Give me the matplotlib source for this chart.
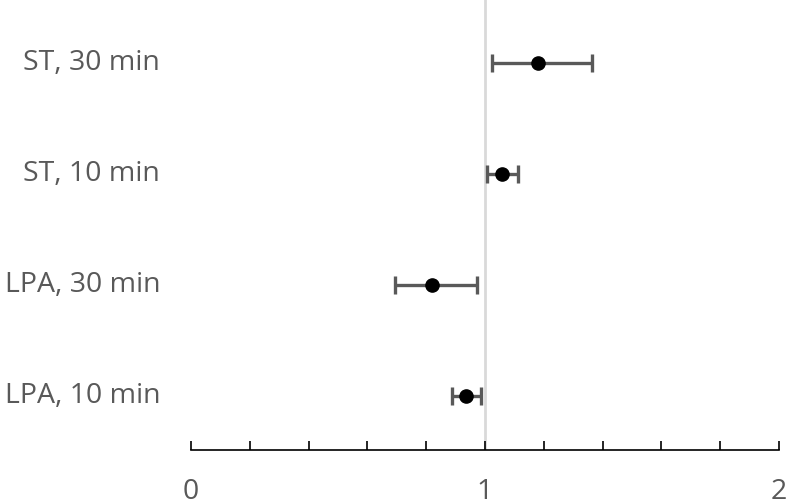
import matplotlib.pyplot as plt
import numpy as np

labels = ['LPA, 10 min', 'LPA, 30 min', 'ST, 10 min', 'ST, 30 min']
est = [0.937, 0.82, 1.058, 1.18]
lo = [0.887, 0.694, 1.007, 1.024]
hi = [0.986, 0.973, 1.112, 1.364]

plt.rcParams['font.family'] = ['Open Sans', 'DejaVu Sans']

fig = plt.figure(figsize=(7.89, 5.03), dpi=100)
ax = fig.add_axes([191/789, 53/503, 588/789, 450/503])

ypos = np.arange(len(labels))
est_a = np.array(est)
xerr = [est_a - np.array(lo), np.array(hi) - est_a]

ax.axvline(1, color='#d9d9d9', lw=2, zorder=1)
ax.errorbar(est_a, ypos, xerr=xerr, fmt='none', ecolor='#595959', elinewidth=2.4,
            capsize=6.5, capthick=2.4, zorder=2)
ax.plot(est_a, ypos, 'o', color='black', ms=9.5, zorder=3)

ax.set_xlim(0, 2)
ax.set_ylim(-0.49, 3.57)
ax.set_xticks([0, 1, 2])
ax.set_xticks(np.arange(0, 2.01, 0.2), minor=True)
ax.tick_params(axis='x', which='both', direction='in', length=6.5, width=1.2, color='black',
               labelsize=20.5, labelcolor='#595959', pad=20)
ax.set_yticks([])
for s in ['left', 'right', 'top']:
    ax.spines[s].set_visible(False)
ax.spines['bottom'].set_linewidth(1.2)

for y, lab in zip(ypos, labels):
    ax.text(-0.105, y, lab, ha='right', va='center', fontsize=20.5, color='#595959',
            transform=ax.transData, clip_on=False)

fig.savefig('out.png', dpi=100)
